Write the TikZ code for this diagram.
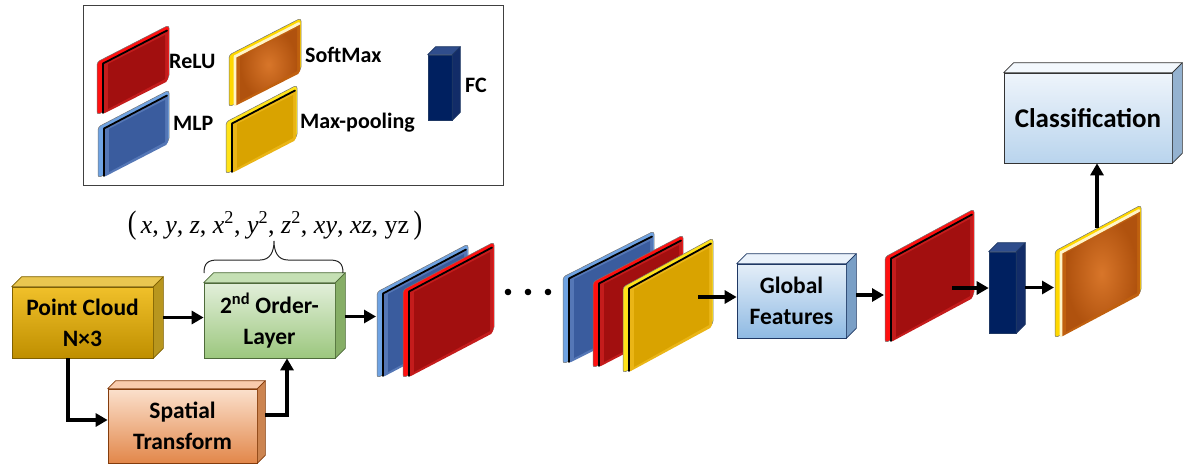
\documentclass[tikz,border=0pt]{standalone}
\usepackage{fontspec}
\usepackage{graphicx}
\setmainfont{Carlito}
\newfontfamily\tms{Liberation Serif}
\usetikzlibrary{arrows.meta,calc}

% block colours
\definecolor{pcTop}{HTML}{F0C02A}\definecolor{pcMid}{HTML}{FFC000}\definecolor{pcBot}{HTML}{BF8F00}
\definecolor{pcLid}{HTML}{E9C650}\definecolor{pcSide}{HTML}{B8961E}\definecolor{pcEdge}{HTML}{7F6000}
\definecolor{soTop}{HTML}{E2EFDA}\definecolor{soBot}{HTML}{9CC77E}
\definecolor{soLid}{HTML}{C5E0B4}\definecolor{soSide}{HTML}{86AE66}\definecolor{soEdge}{HTML}{4E6B3A}
\definecolor{stTop}{HTML}{FBE0CC}\definecolor{stMid}{HTML}{F4B183}\definecolor{stBot}{HTML}{E2874A}
\definecolor{stLid}{HTML}{F8CBAD}\definecolor{stSide}{HTML}{CC8450}\definecolor{stEdge}{HTML}{843C0C}
\definecolor{gfTop}{HTML}{E4EEF8}\definecolor{gfBot}{HTML}{8FBAE3}
\definecolor{gfLid}{HTML}{EAF2FB}\definecolor{gfSide}{HTML}{7A9FC6}\definecolor{gfEdge}{HTML}{1F3864}
\definecolor{clTop}{HTML}{EEF4FB}\definecolor{clBot}{HTML}{B9D4ED}
\definecolor{clLid}{HTML}{F3F8FD}\definecolor{clSide}{HTML}{94B2D0}
\definecolor{fcFront}{HTML}{002060}\definecolor{fcLid}{HTML}{2F4D8C}\definecolor{fcSide}{HTML}{122C68}\definecolor{fcEdge}{HTML}{1F3864}
% slab colours
\definecolor{redEdge}{HTML}{FF1010}\definecolor{redBevel}{HTML}{C41C1C}\definecolor{redFace}{HTML}{A20F0F}\definecolor{redDark}{HTML}{6E0A0A}
\definecolor{bluEdge}{HTML}{6FA3E3}\definecolor{bluBevel}{HTML}{5577B6}\definecolor{bluFace}{HTML}{3A5C9E}\definecolor{bluDark}{HTML}{26406E}
\definecolor{ylwEdge}{HTML}{FFE31A}\definecolor{ylwBevel}{HTML}{EAB516}\definecolor{ylwFace}{HTML}{D9A300}\definecolor{ylwDark}{HTML}{8A6800}
\definecolor{smEdge}{HTML}{FFD800}\definecolor{smRim}{HTML}{FFF4C8}\definecolor{smBevel}{HTML}{C0600F}
\definecolor{smIn}{HTML}{D8762A}\definecolor{smOut}{HTML}{B0520E}\definecolor{smDark}{HTML}{8A4A10}

\newcommand\blkfont{\fontsize{23.5}{31}\selectfont\bfseries}
\newcommand\legfont{\fontsize{22}{22}\selectfont\bfseries}

% top and right faces of a 3D block: node, depth, lid colour, side colour, edge colour
\newcommand\cubefaces[5]{%
  \filldraw[fill=#3, draw=#5, line width=0.7pt, line join=round]
    (#1.north west) -- ++(#2,-#2) -- ([shift={(#2,-#2)}]#1.north east) -- (#1.north east) -- cycle;
  \filldraw[fill=#4, draw=#5, line width=0.7pt, line join=round]
    (#1.north east) -- ++(#2,-#2) -- ([shift={(#2,-#2)}]#1.south east) -- (#1.south east) -- cycle;}

% tilted layer slab: x, y (top-left of face), width, height, rise, edge colour, rim line, bevel colour, face options
\newcommand\slab[9]{%
  \filldraw[fill=#6, draw=black!55, line width=0.5pt, rounded corners=3pt]
    (#1-6,#2-1) -- (#1+#3+1,#2-#5-5) -- (#1+#3+1,#2-#5+#4-3) -- (#1-6,#2+#4+1) -- cycle;
  \fill[#8, rounded corners=2pt] (#1,#2) -- (#1+#3,#2-#5) -- (#1+#3,#2-#5+#4) -- (#1,#2+#4) -- cycle;
  \path[#9] (#1+5,#2+1) -- (#1+#3-3,#2-#5+5) -- (#1+#3-3,#2-#5+#4-2) -- (#1+5,#2+#4-5) -- cycle;
  \draw[#7, line cap=round, line join=round] (#1,#2+#4-1) -- (#1,#2+0.5) -- (#1+#3-1,#2-#5+0.5);}

\begin{document}
\begin{tikzpicture}[x=1pt, y=-1pt,
  blk/.style={line width=0.7pt, inner sep=0pt, align=center, font=\blkfont},
  leg/.style={anchor=west, inner sep=0pt, font=\legfont},
  arr/.style={line width=3.6pt, -{Triangle[length=12pt,width=13pt]}},
  blackrim/.style={black, line width=1.8pt},
  redface/.style={fill=redFace}, bluface/.style={fill=bluFace}, ylwface/.style={fill=ylwFace},
  smface/.style={inner color=smIn, outer color=smOut},
  smrim/.style={smRim, line width=2.8pt}]
\useasboundingbox (0,0) rectangle (1184,464);

% ---------- legend ----------
\draw[line width=1pt, black!75] (83,5) rectangle (503,185);
\slab{103}{63}{65}{51}{33}{redEdge}{blackrim}{redBevel}{redface}
\slab{104}{128}{64}{49}{33}{bluEdge}{blackrim}{bluBevel}{bluface}
\slab{235}{56}{65}{50}{33}{smEdge}{smrim}{smBevel}{smface}
\slab{232}{123}{64}{50}{33}{ylwEdge}{blackrim}{ylwBevel}{ylwface}
\node[fill=fcFront, draw=fcEdge, line width=0.6pt, minimum width=24pt, minimum height=65pt, inner sep=0pt] (lfc) at (440,87.5) {};
\cubefaces{lfc}{8}{fcLid}{fcSide}{fcEdge}
\node[leg] (lrelu) at (169,61) {ReLU};
\node[leg] (lsoft) at (305,55) {SoftMax};
\node[leg] (lmlp) at (173,123) {MLP};
\node[leg] (lpool) at (300,123) {Max-pooling};
\node[leg] (lfct) at (465,85) {FC};

% ---------- input blocks ----------
\node[blk, draw=pcEdge, top color=pcTop, middle color=pcMid, bottom color=pcBot,
      minimum width=141pt, minimum height=71pt] (pc) at (82.5,322.5) {Point Cloud\\N×3};
\cubefaces{pc}{10}{pcLid}{pcSide}{pcEdge}
\node[blk, draw=soEdge, top color=soTop, bottom color=soBot,
      minimum width=131pt, minimum height=75pt] (so) at (269.5,320.5) {2\textsuperscript{nd} Order-\\Layer};
\cubefaces{so}{10}{soLid}{soSide}{soEdge}
\node[blk, draw=stEdge, top color=stTop, middle color=stMid, bottom color=stBot,
      minimum width=149pt, minimum height=74pt] (st) at (182.5,426) {Spatial\\Transform};
\cubefaces{st}{8}{stLid}{stSide}{stEdge}

% formula and brace over the second-order layer
\node[anchor=base, inner sep=0pt, font=\tms\fontsize{26}{26}\selectfont] (formula) at (275,233)
  {\scalebox{1}[1.25]{(}\,\textit{x}, \textit{y}, \textit{z}, \textit{x}\textsuperscript{2}, \textit{y}\textsuperscript{2}, \textit{z}\textsuperscript{2}, \textit{xy}, \textit{xz}, yz\,\scalebox{1}[1.25]{)}};
\draw[line width=1pt, black!85] (204,273) .. controls (204,263) and (208,260) .. (218,260) -- (260,260)
  .. controls (270,260) and (274,252) .. (274,241) .. controls (274,252) and (278,260) .. (288,260)
  -- (329,260) .. controls (339,260) and (343,263) .. (343,273);

% ---------- feature layers ----------
\slab{383}{293}{84}{84}{44}{bluEdge}{blackrim}{bluBevel}{bluface}
\slab{409}{291}{84}{86}{44}{redEdge}{blackrim}{redBevel}{redface}
\fill (508,292) circle (3.3pt) (528,292) circle (3.3pt) (548,292) circle (3.3pt);
\slab{569}{278}{84}{85}{42}{bluEdge}{blackrim}{bluBevel}{bluface}
\slab{599}{283}{83}{84}{43}{redEdge}{blackrim}{redBevel}{redface}
\slab{629}{288}{83}{84}{45}{ylwEdge}{blackrim}{ylwBevel}{ylwface}

\node[blk, draw=gfEdge, top color=gfTop, bottom color=gfBot,
      minimum width=109pt, minimum height=74pt] (gf) at (791.5,301) {Global\\Features};
\cubefaces{gf}{10}{gfLid}{gfSide}{gfEdge}

\slab{891}{258}{82}{84}{44}{redEdge}{blackrim}{redBevel}{redface}
\node[fill=fcFront, draw=fcEdge, line width=0.6pt, minimum width=27pt, minimum height=81pt, inner sep=0pt] (fc) at (1002.5,292.5) {};
\cubefaces{fc}{9}{fcLid}{fcSide}{fcEdge}
\slab{1061}{252}{79}{85}{42}{smEdge}{smrim}{smBevel}{smface}

\node[blk, draw=black!80, top color=clTop, bottom color=clBot, font=\fontsize{27}{30}\selectfont\bfseries,
      minimum width=168pt, minimum height=90pt] (cls) at (1088,118) {Classification};
\cubefaces{cls}{10}{clLid}{clSide}{black!80}

% connection points on the layer slabs
\coordinate (g1in) at (376,317);
\coordinate (ymid) at (698,297);
\coordinate (r3in) at (884,294);
\coordinate (r3mid) at (952,288);
\coordinate (smin) at (1054,287);
\coordinate (smtop) at (1097,228);

% ---------- connectors ----------
\draw[arr] ([shift={(10pt,5pt)}]pc.east) coordinate (a1) -- (a1 -| so.west);
\draw[arr] ([xshift=-14.5pt]pc.south) |- ([yshift=6pt]st.west);
\draw[arr] ([shift={(8pt,11pt)}]st.east) -| ([xshift=17.5pt]so.south);
\draw[arr] ([shift={(10pt,4pt)}]so.east) coordinate (a4) -- (a4 -| g1in);
\draw[arr] (ymid) -- (ymid -| gf.west);
\draw[arr] ([shift={(10pt,6pt)}]gf.east) coordinate (a6) -- (a6 -| r3in);
\draw[arr] (r3mid) -- (r3mid -| fc.west);
\draw[arr] ([shift={(9pt,5pt)}]fc.east) coordinate (a8) -- (a8 -| smin);
\draw[arr] (smtop) -- (smtop |- cls.south);
\end{tikzpicture}
\end{document}
